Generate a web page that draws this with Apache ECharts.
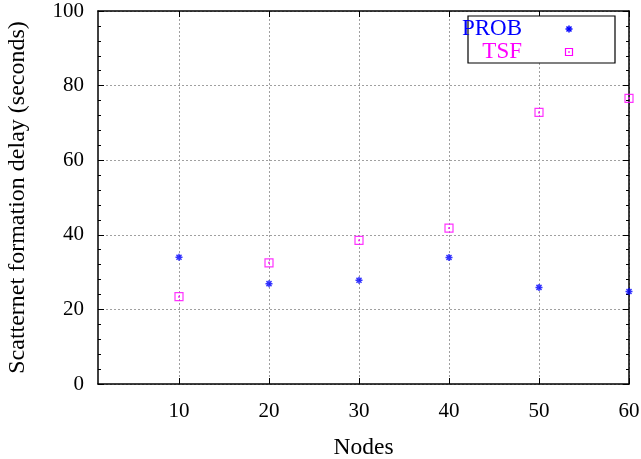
<!DOCTYPE html>
<html>
<head>
<meta charset="utf-8">
<script src="https://cdn.jsdelivr.net/npm/echarts@6/dist/echarts.min.js"></script>
<style>html,body{margin:0;padding:0;background:#fff}#c{width:641px;height:459px}</style>
</head>
<body>
<div id="c"></div>
<script>
const nodes = [10, 20, 30, 40, 50, 60];
const probValues = [34.0, 26.9, 27.8, 33.9, 25.9, 24.8];
const tsfValues = [23.4, 32.5, 38.5, 41.8, 72.8, 76.6];
const xTicks = [10, 20, 30, 40, 50, 60];
const seriesNames = ['PROB', 'TSF'];
const xTitle = 'Nodes';
const yTitle = 'Scatternet formation delay (seconds)';

const FONT = 'Liberation Serif';
const BLUE = '#0000ff', MAG = '#ff00ff';
const gridLine = { show: true, lineStyle: { color: '#a0a0a0', type: [2, 2], width: 1 } };
const axisLine = { show: true, onZero: false, lineStyle: { color: '#000', width: 1.5 } };

const starPath = 'path://M0,-1L0,1M-1,0L1,0M-0.72,-0.72L0.72,0.72M-0.72,0.72L0.72,-0.72';
const sqPath = 'path://M-1,-1L1,-1L1,1L-1,1ZM-0.08,-0.08L0.08,-0.08L0.08,0.08L-0.08,0.08Z';

const chart = echarts.init(document.getElementById('c'), null, { renderer: 'canvas' });
const xBase = {
  type: 'value', min: 1, max: 60,
  axisLine: axisLine,
  axisTick: { show: true, inside: true, length: 6, customValues: xTicks, lineStyle: { color: '#000' } },
  splitLine: { show: false }
};
const yBase = {
  type: 'value', min: 0, max: 100, interval: 20,
  axisLine: axisLine,
  axisTick: { show: true, inside: true, length: 6, lineStyle: { color: '#000' } },
  minorTick: { show: true, splitNumber: 5, length: 3, lineStyle: { color: '#000' } },
  splitLine: { show: false }
};
chart.setOption({
  animation: false,
  backgroundColor: '#fff',
  grid: { left: 98, right: 12, top: 11, bottom: 75, containLabel: false, outerBoundsMode: 'none' },
  xAxis: [
    Object.assign({}, xBase, {
      position: 'bottom',
      name: xTitle, nameLocation: 'middle', nameGap: 52,
      nameTextStyle: { fontFamily: FONT, fontSize: 23.5, color: '#000' },
      axisLabel: { customValues: xTicks, margin: 17, fontFamily: FONT, fontSize: 21, color: '#000' },
      splitLine: gridLine
    }),
    Object.assign({}, xBase, { position: 'top', axisLabel: { show: false } })
  ],
  yAxis: [
    Object.assign({}, yBase, {
      position: 'left',
      name: yTitle, nameLocation: 'middle', nameGap: 68,
      nameTextStyle: { fontFamily: FONT, fontSize: 24, color: '#000' },
      axisLabel: { margin: 14, fontFamily: FONT, fontSize: 21, color: '#000' },
      splitLine: gridLine
    }),
    Object.assign({}, yBase, { position: 'right', axisLabel: { show: false } })
  ],
  series: [
    {
      name: seriesNames[0], type: 'scatter', xAxisIndex: 0, yAxisIndex: 0,
      data: nodes.map((n, i) => [n, probValues[i]]),
      symbol: starPath, symbolSize: 7,
      itemStyle: { color: 'rgba(0,0,0,0)', borderColor: BLUE, borderWidth: 1.5 },
      z: 5
    },
    {
      name: seriesNames[1], type: 'scatter', xAxisIndex: 0, yAxisIndex: 0,
      data: nodes.map((n, i) => [n, tsfValues[i]]),
      symbol: sqPath, symbolSize: 8,
      itemStyle: { color: 'rgba(0,0,0,0)', borderColor: MAG, borderWidth: 1.2 },
      z: 5
    }
  ],
  graphic: [
    { type: 'rect', shape: { x: 468, y: 16, width: 147, height: 47 }, style: { fill: '#fff', stroke: '#000', lineWidth: 1.2 }, z: 10 },
    { type: 'text', x: 522, y: 29, style: { text: seriesNames[0], fill: BLUE, font: '23px "Liberation Serif"', textAlign: 'right', textVerticalAlign: 'middle' }, z: 11 },
    { type: 'text', x: 522, y: 52, style: { text: seriesNames[1], fill: MAG, font: '23px "Liberation Serif"', textAlign: 'right', textVerticalAlign: 'middle' }, z: 11 },
    { type: 'line', shape: { x1: 569, y1: 25.5, x2: 569, y2: 32.5 }, style: { stroke: BLUE, lineWidth: 1.5 }, z: 11 },
    { type: 'line', shape: { x1: 565.5, y1: 29, x2: 572.5, y2: 29 }, style: { stroke: BLUE, lineWidth: 1.5 }, z: 11 },
    { type: 'line', shape: { x1: 566.5, y1: 26.5, x2: 571.5, y2: 31.5 }, style: { stroke: BLUE, lineWidth: 1.5 }, z: 11 },
    { type: 'line', shape: { x1: 566.5, y1: 31.5, x2: 571.5, y2: 26.5 }, style: { stroke: BLUE, lineWidth: 1.5 }, z: 11 },
    { type: 'rect', shape: { x: 565.5, y: 48.5, width: 7, height: 7 }, style: { fill: 'none', stroke: MAG, lineWidth: 1.2 }, z: 11 },
    { type: 'rect', shape: { x: 568.5, y: 51.5, width: 1, height: 1 }, style: { fill: MAG, stroke: MAG, lineWidth: 0.5 }, z: 11 }
  ]
});
</script>
</body>
</html>
